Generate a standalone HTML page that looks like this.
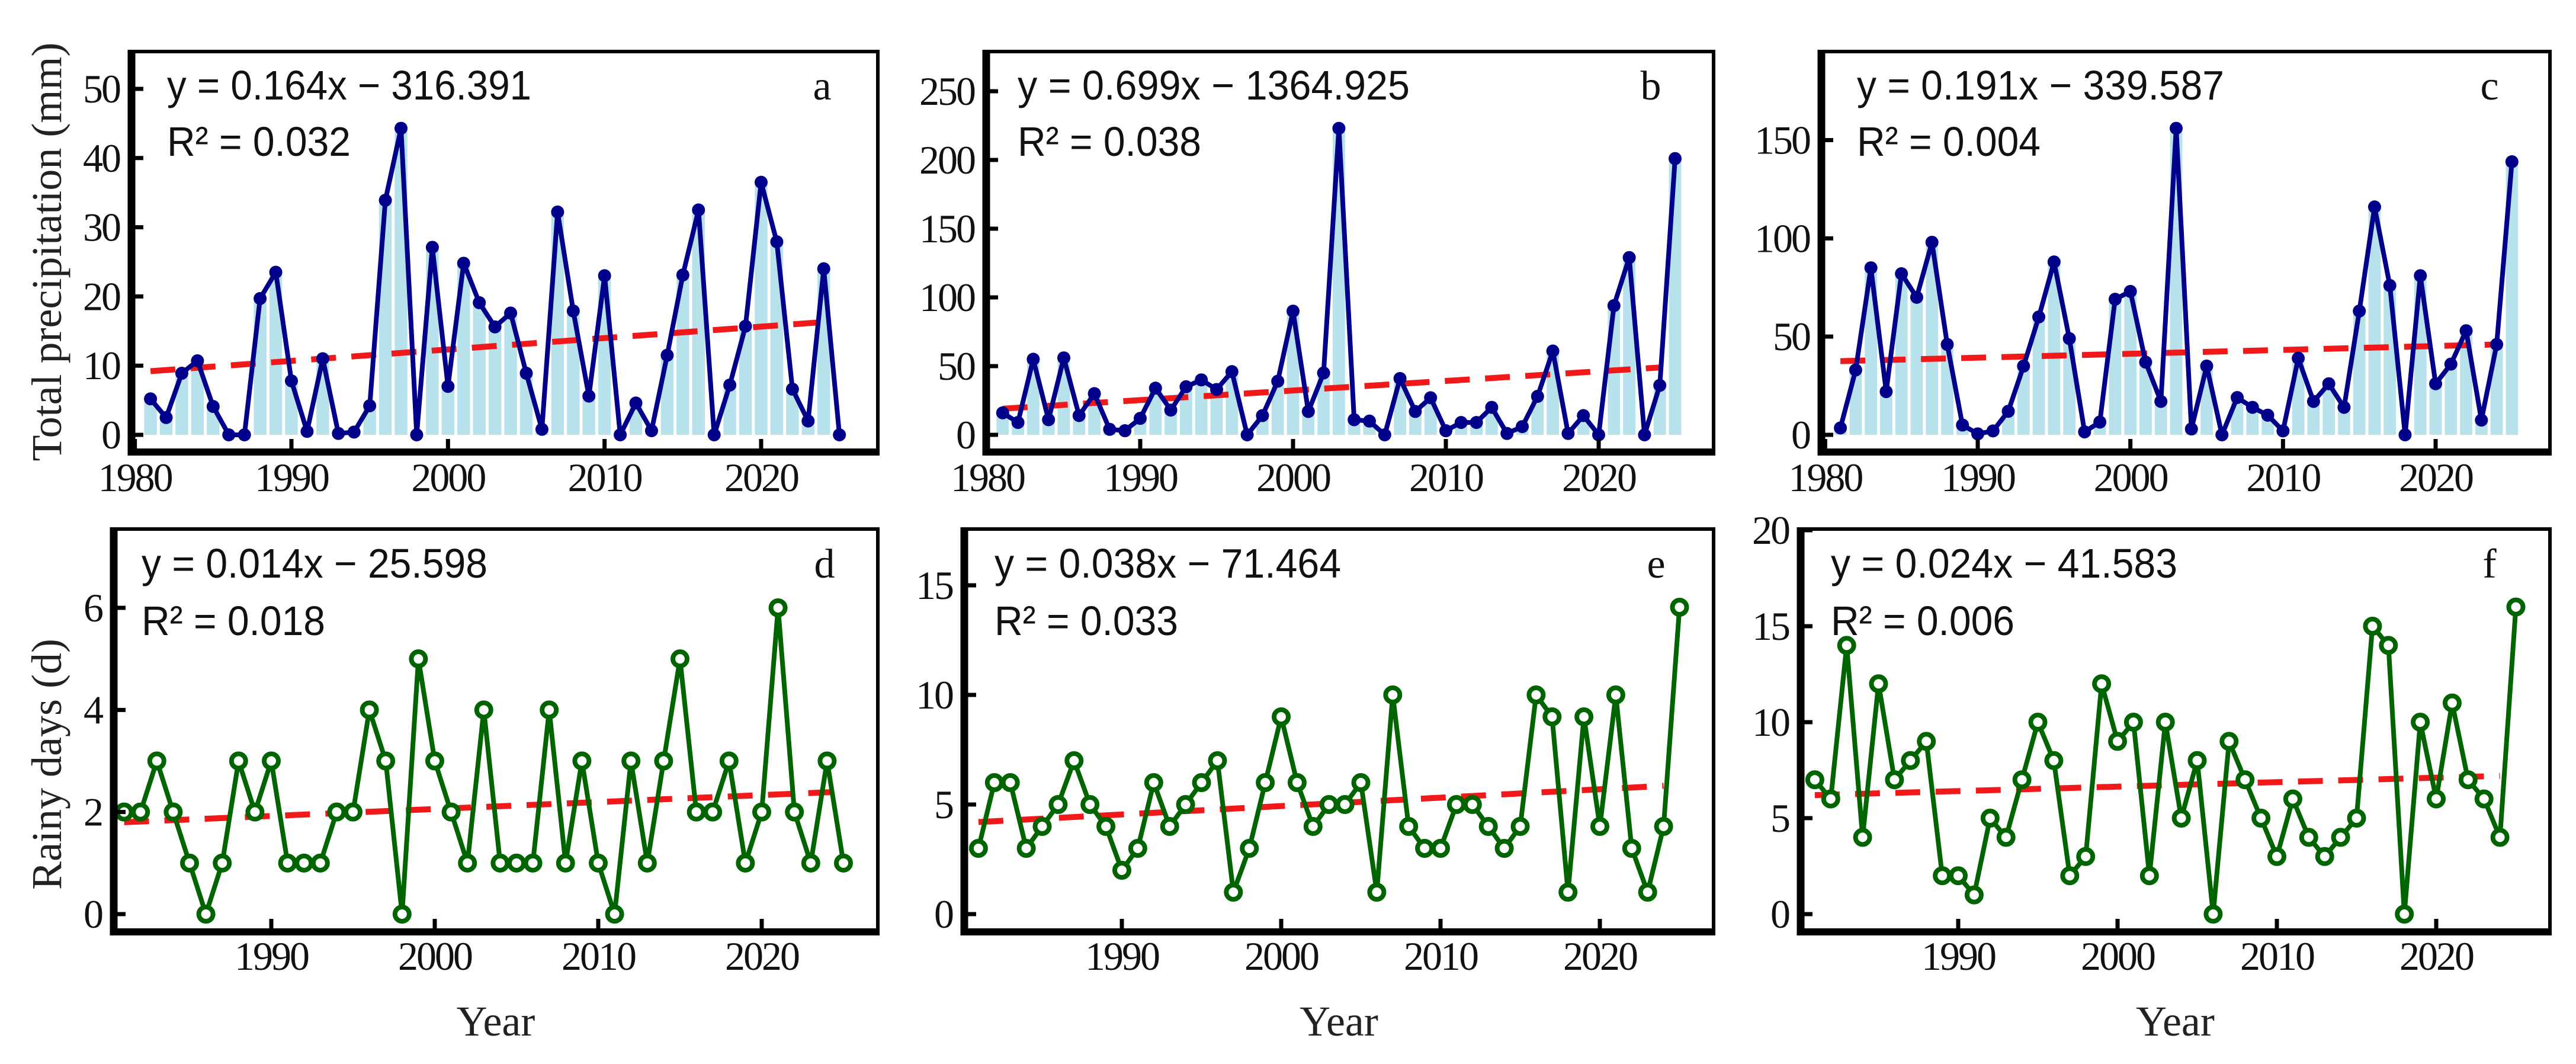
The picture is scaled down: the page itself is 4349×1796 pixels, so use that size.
<!DOCTYPE html>
<html><head><meta charset="utf-8"><style>
html,body{margin:0;padding:0;background:#fff;}
svg{display:block;}
.tick{font-family:"Liberation Serif",serif;font-size:68px;fill:#111;letter-spacing:-3px;}
.ttl{font-family:"Liberation Serif",serif;font-size:72px;fill:#222;}
.eq{font-family:"Liberation Sans",sans-serif;font-size:70px;fill:#111;}
.lab{font-family:"Liberation Serif",serif;font-size:70px;fill:#111;}
</style></head><body>
<svg id="fig" width="4349" height="1796" viewBox="0 0 4349 1796" xmlns="http://www.w3.org/2000/svg"></svg>
<script>
const years = [1981,1982,1983,1984,1985,1986,1987,1988,1989,1990,1991,1992,1993,1994,1995,1996,1997,1998,1999,2000,2001,2002,2003,2004,2005,2006,2007,2008,2009,2010,2011,2012,2013,2014,2015,2016,2017,2018,2019,2020,2021,2022,2023,2024,2025];
const precipA = [5.2,2.5,8.9,10.7,4.1,0,0,19.7,23.5,7.8,0.5,11,0.2,0.4,4.2,33.9,44.3,0,27.1,7,24.8,19.1,15.6,17.6,8.9,0.8,32.2,17.9,5.6,23,0,4.6,0.6,11.5,23.1,32.5,0,7.2,15.7,36.5,27.9,6.6,2,24,0];
const precipB = [16,9,55,11,56,14,30,4,3,12,34,18,35,40,33,46,0,14,39,90,17,45,223,11,10,0,41,17,27,3,9,9,20,1,6,28,61,1,14,0,94,129,0,36,201];
const precipC = [3.5,33,85,22,82,70,98,46,5,0.5,2,12,35,60,88,49,1.5,6.5,69,73,37,17,156,3,35,0,19,14,10,2,39,17,26,14,63,116,76,0,81,26,36,53,7.5,46,139];
const daysD = [2,2,3,2,1,0,1,3,2,3,1,1,1,2,2,4,3,0,5,3,2,1,4,1,1,1,4,1,3,1,0,3,1,3,5,2,2,3,1,2,6,2,1,3,1];
const daysE = [3,6,6,3,4,5,7,5,4,2,3,6,4,5,6,7,1,3,6,9,6,4,5,5,6,1,10,4,3,3,5,5,4,3,4,10,9,1,9,4,10,3,1,4,14];
const daysF = [7,6,14,4,12,7,8,9,2,2,1,5,4,7,10,8,2,3,12,9,10,2,10,5,8,0,9,7,5,3,6,4,3,4,5,15,14,0,10,6,11,7,6,4,16];
const trendStart = [9.2,19,37.5,1.8,4.2,6.2];
const trendEnd = [16.3,49,46,2.4,5.85,7.2];
const trendEndYear = [2024,2024,2024,2025,2024,2024];
const yTicksA = [0,10,20,30,40,50];
const yTicksB = [0,50,100,150,200,250];
const yTicksC = [0,50,100,150];
const yTicksD = [0,2,4,6];
const yTicksE = [0,5,10,15];
const yTicksF = [0,5,10,15,20];
const xTicksTop = [1980,1990,2000,2010,2020];
const xTicksBottom = [1990,2000,2010,2020];
const eqTexts = ["y = 0.164x \u2212 316.391","y = 0.699x \u2212 1364.925","y = 0.191x \u2212 339.587","y = 0.014x \u2212 25.598","y = 0.038x \u2212 71.464","y = 0.024x \u2212 41.583"];
const r2Texts = ["R\u00b2 = 0.032","R\u00b2 = 0.038","R\u00b2 = 0.004","R\u00b2 = 0.018","R\u00b2 = 0.033","R\u00b2 = 0.006"];
const letters = ["a","b","c","d","e","f"];

const NS="http://www.w3.org/2000/svg";
const svg=document.getElementById('fig');
function mk(tag,attrs,parent){const e=document.createElementNS(NS,tag);for(const k in attrs)e.setAttribute(k,attrs[k]);(parent||svg).appendChild(e);return e;}

const panels=[
 {L:222,R:1482,T:87,B:763,y0:734,v0:0,y1:150,v1:50,xa:492,ya:1990,xb:1285,yb:2020,data:precipA,ticks:yTicksA,xt:xTicksTop,kind:'bar',eqX:282,eqY:168,eqW:615,r2Y:263,r2W:310,letX:1388,xlY:829},
 {L:1665,R:2893,T:87,B:763,y0:734,v0:0,y1:154,v1:250,xa:1925,ya:1990,xb:2699,yb:2020,data:precipB,ticks:yTicksB,xt:xTicksTop,kind:'bar',eqX:1718,eqY:168,eqW:662,r2Y:263,r2W:310,letX:2787,xlY:829},
 {L:3075,R:4305,T:87,B:763,y0:734,v0:0,y1:236.5,v1:150,xa:3339,ya:1990,xb:4112,yb:2020,data:precipC,ticks:yTicksC,xt:xTicksTop,kind:'bar',eqX:3135,eqY:168,eqW:620,r2Y:263,r2W:310,letX:4203,xlY:829},
 {L:192,R:1482,T:893,B:1573,y0:1543,v0:0,y1:1026,v1:6,xa:458,ya:1990,xb:1286,yb:2020,data:daysD,ticks:yTicksD,xt:xTicksBottom,kind:'dot',eqX:239,eqY:975,eqW:584,r2Y:1072,r2W:310,letX:1392,xlY:1637},
 {L:1628,R:2893,T:893,B:1573,y0:1543,v0:0,y1:988,v1:15,xa:1894,ya:1990,xb:2701,yb:2020,data:daysE,ticks:yTicksE,xt:xTicksBottom,kind:'dot',eqX:1679,eqY:975,eqW:585,r2Y:1072,r2W:310,letX:2796,xlY:1637},
 {L:3040,R:4305,T:893,B:1573,y0:1543,v0:0,y1:895,v1:20,xa:3306,ya:1990,xb:4113,yb:2020,data:daysF,ticks:yTicksF,xt:xTicksBottom,kind:'dot',eqX:3091,eqY:975,eqW:585,r2Y:1072,r2W:310,letX:4203,xlY:1637}
];

panels.forEach((p,i)=>{
  const g=mk('g',{});
  
  
  const X=yr=>p.xa+(yr-p.ya)*(p.xb-p.xa)/(p.yb-p.ya);
  const Y=v=>p.y0+(v-p.v0)*(p.y1-p.y0)/(p.v1-p.v0);
  const step=(p.xb-p.xa)/(p.yb-p.ya);
  if(p.kind==='bar'){
    years.forEach((yr,j)=>{
      const h=p.y0-Y(p.data[j]);
      const b=mk('rect',{x:X(yr)-step/2+2.5,y:Y(p.data[j]),width:step-5,height:Math.max(h,0),fill:'#b7e2ec'},g);
      
      
    });
  }
  const tr=mk('line',{x1:X(years[0]),y1:Y(trendStart[i]),x2:X(trendEndYear[i]),y2:Y(trendEnd[i]),stroke:'#f01818','stroke-width':10,'stroke-dasharray':'42 26'},g);
  
  
  const col=p.kind==='bar'?'#00008b':'#006400';
  const pts=years.map((yr,j)=>X(yr).toFixed(1)+','+Y(p.data[j]).toFixed(1)).join(' ');
  const ln=mk('polyline',{points:pts,fill:'none',stroke:col,'stroke-width':8,'stroke-linejoin':'round'},g);
  
  
  years.forEach((yr,j)=>{
    const c=p.kind==='bar'?mk('circle',{cx:X(yr),cy:Y(p.data[j]),r:11,fill:col},g):mk('circle',{cx:X(yr),cy:Y(p.data[j]),r:12,fill:'#fff',stroke:col,'stroke-width':8},g);
    
    
  });
  const fr=mk('rect',{x:p.L,y:p.T,width:p.R-p.L,height:p.B-p.T,fill:'none',stroke:'#000','stroke-width':6},g);
  
  
  const ya=mk('line',{x1:p.L,y1:p.T-3,x2:p.L,y2:p.B+6,stroke:'#000','stroke-width':13},g);
  
  
  const xa=mk('line',{x1:p.L-6,y1:p.B,x2:p.R+3,y2:p.B,stroke:'#000','stroke-width':12},g);
  
  
  p.ticks.forEach(v=>{
    mk('line',{x1:p.L,y1:Y(v),x2:p.L+20,y2:Y(v),stroke:'#000','stroke-width':7},g);
    const t=mk('text',{x:p.L-20,y:Y(v)+23,'text-anchor':'end',class:'tick'},g);
    t.textContent=v;
    
    
  });
  p.xt.forEach(v=>{
    mk('line',{x1:X(v),y1:p.B,x2:X(v),y2:p.B-22,stroke:'#000','stroke-width':7},g);
    const t=mk('text',{x:X(v),y:p.xlY,'text-anchor':'middle',class:'tick'},g);
    t.textContent=v;
    
    
  });
  const eq=mk('text',{x:p.eqX,y:p.eqY,class:'eq',textLength:p.eqW,lengthAdjust:'spacingAndGlyphs'},g);
  eq.textContent=eqTexts[i];
  
  
  const r2=mk('text',{x:p.eqX,y:p.r2Y,class:'eq',textLength:p.r2W,lengthAdjust:'spacingAndGlyphs'},g);
  r2.textContent=r2Texts[i];
  
  
  const lt=mk('text',{x:p.letX,y:p.eqY,class:'lab','text-anchor':'middle'},g);
  lt.textContent=letters[i];
  
  
  if(p.kind==='dot'){
    const xl=mk('text',{x:(p.L+p.R)/2,y:1748,class:'ttl','text-anchor':'middle'},g);
    xl.textContent='Year';
    
    
  }
});
const t1=mk('text',{x:0,y:0,class:'ttl','text-anchor':'middle',transform:'translate(103,425) rotate(-90)'});
t1.textContent='Total precipitation (mm)';


const t2=mk('text',{x:0,y:0,class:'ttl','text-anchor':'middle',transform:'translate(103,1290) rotate(-90)'});
t2.textContent='Rainy days (d)';


</script>
</body></html>
